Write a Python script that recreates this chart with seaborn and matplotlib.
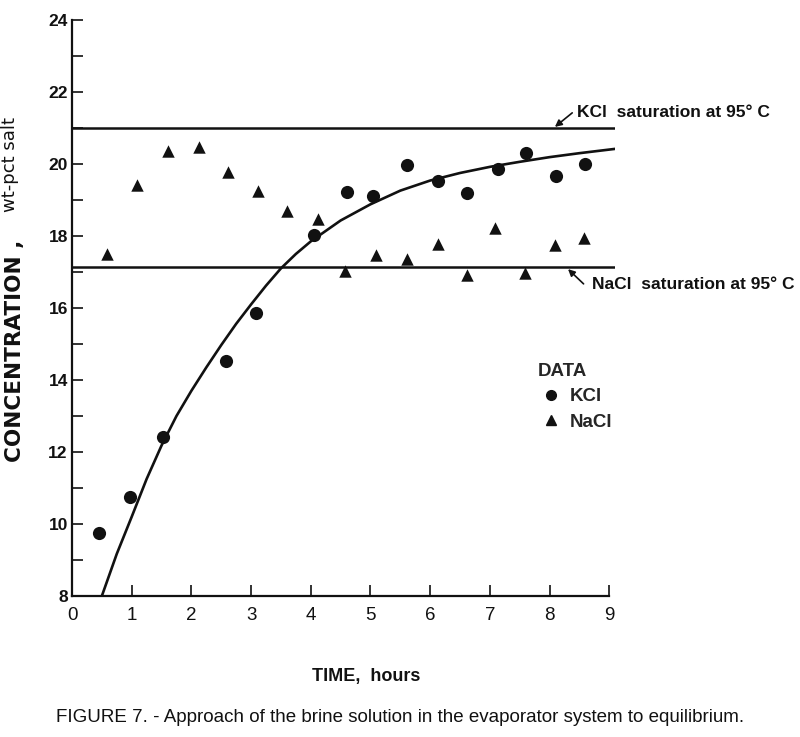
import matplotlib
matplotlib.use("Agg")
import matplotlib.pyplot as plt
import seaborn as sns
import pandas as pd
from matplotlib.lines import Line2D

# ---------------- data ----------------
kcl_time = [0.45, 0.97, 1.52, 2.58, 3.08, 4.05, 4.60, 5.05, 5.61, 6.13, 6.62, 7.13, 7.61, 8.11, 8.60]
kcl_conc = [9.75, 10.75, 12.42, 14.53, 15.86, 18.02, 19.22, 19.12, 19.97, 19.53, 19.20, 19.86, 20.31, 19.67, 20.00]

nacl_time = [0.58, 1.09, 1.61, 2.13, 2.62, 3.11, 3.60, 4.12, 4.58, 5.10, 5.62, 6.13, 6.61, 7.09, 7.59, 8.09, 8.57]
nacl_conc = [17.50, 19.42, 20.37, 20.48, 19.79, 19.26, 18.70, 18.46, 17.04, 17.47, 17.35, 17.78, 16.92, 18.23, 16.98, 17.75, 17.94]

curve_time = [0.50, 0.75, 1.00, 1.25, 1.50, 1.75, 2.00, 2.25, 2.50, 2.75, 3.00, 3.25, 3.50, 3.75,
              4.00, 4.50, 5.00, 5.50, 6.00, 6.50, 7.00, 7.50, 8.00, 8.50, 9.10]
curve_conc = [8.00, 9.17, 10.20, 11.25, 12.18, 13.00, 13.70, 14.35, 14.97, 15.56, 16.10, 16.62, 17.10, 17.50,
              17.85, 18.43, 18.88, 19.26, 19.54, 19.75, 19.92, 20.06, 20.19, 20.30, 20.42]

kcl_saturation = 21.0
nacl_saturation = 17.15

x_ticks = [0, 1, 2, 3, 4, 5, 6, 7, 8, 9]
y_ticks = [8, 10, 12, 14, 16, 18, 20, 22, 24]
y_minor = [9, 11, 13, 15, 17, 19, 21, 23]

# ---------------- style ----------------
sns.set_style("ticks")
plt.rcParams["font.family"] = ["Liberation Sans", "DejaVu Sans"]
INK = "#111111"

fig = plt.figure(figsize=(8.0, 7.37), dpi=100)
ax = fig.add_axes([0.09, 0.1913, 0.679, 0.7816])

df_k = pd.DataFrame({"time": kcl_time, "conc": kcl_conc})
df_n = pd.DataFrame({"time": nacl_time, "conc": nacl_conc})
df_c = pd.DataFrame({"time": curve_time, "conc": curve_conc})

ax.axhline(kcl_saturation, color=INK, lw=1.8, zorder=2)
ax.axhline(nacl_saturation, color=INK, lw=1.8, zorder=2)
sns.lineplot(data=df_c, x="time", y="conc", color=INK, lw=1.9, ax=ax, zorder=3)
sns.scatterplot(data=df_k, x="time", y="conc", marker="o", s=90, color=INK,
                edgecolor=INK, linewidth=0, ax=ax, zorder=4)
sns.scatterplot(data=df_n, x="time", y="conc", marker="^", s=80, color=INK,
                edgecolor=INK, linewidth=0, ax=ax, zorder=4)

ax.set_xlim(0, 9.1)
ax.set_ylim(8, 24)
sns.despine(ax=ax)
ax.spines["bottom"].set_bounds(0, 9)
ax.spines["left"].set_bounds(8, 24)
for s in ("left", "bottom"):
    ax.spines[s].set_color(INK)
    ax.spines[s].set_linewidth(1.6)

ax.set_xticks(x_ticks)
ax.set_xticklabels([str(v) for v in x_ticks], fontsize=13.5, color=INK)
ax.set_yticks(y_ticks)
ax.set_yticklabels([str(v) for v in y_ticks], fontsize=12.5, fontweight="bold", color=INK)
ax.set_yticks(y_minor, minor=True)
ax.tick_params(axis="both", which="both", direction="in", length=8, width=1.2, color=INK)
ax.tick_params(axis="x", pad=8)
ax.tick_params(axis="y", pad=3)
ax.set_xlabel("")
ax.set_ylabel("")

# saturation labels with arrows
ax.annotate("", xy=(8.09, 21.03), xytext=(8.38, 21.42),
            arrowprops=dict(arrowstyle="-|>", color=INK, lw=1.2, mutation_scale=10,
                            shrinkA=0, shrinkB=0))
ax.text(8.46, 21.44, "KCl  saturation at 95° C", ha="left", va="center",
        fontsize=12.5, fontweight="bold", color=INK, clip_on=False)
ax.annotate("", xy=(8.31, 17.08), xytext=(8.57, 16.67),
            arrowprops=dict(arrowstyle="-|>", color=INK, lw=1.2, mutation_scale=10,
                            shrinkA=0, shrinkB=0))
ax.text(8.71, 16.64, "NaCl  saturation at 95° C", ha="left", va="center",
        fontsize=12.5, fontweight="bold", color=INK, clip_on=False)

# legend
handles = [Line2D([], [], marker="o", ls="", color=INK, markersize=7, label="KCl"),
           Line2D([], [], marker="^", ls="", color=INK, markersize=7, label="NaCl")]
leg = ax.legend(handles=handles, title="DATA", loc="upper left", bbox_to_anchor=(0.857, 0.405),
                frameon=False, handlelength=1.4, handletextpad=0.3, labelspacing=0.45,
                borderpad=0, borderaxespad=0, alignment="left",
                prop={"weight": "bold", "size": 13.5},
                title_fontproperties={"weight": "bold", "size": 13.5})
leg._legend_box.sep = 6

# axis labels and caption
fig.text(0.019, 1 - 462 / 737, "CONCENTRATION ,", rotation=90, ha="center", va="bottom",
         fontsize=15.5, fontweight="bold", color=INK, family=["DejaVu Sans"])
fig.text(0.013, 1 - 212 / 737, "wt-pct salt", rotation=90, ha="center", va="bottom",
         fontsize=13, color=INK, family=["DejaVu Sans"])
fig.text(366 / 800, 1 - 676 / 737, "TIME,  hours", ha="center", va="center",
         fontsize=13, fontweight="bold", color=INK)
fig.text(400 / 800, 1 - 717 / 737,
         "FIGURE 7. - Approach of the brine solution in the evaporator system to equilibrium.",
         ha="center", va="center", fontsize=13.5, color=INK)

fig.savefig("out.png", dpi=100)
